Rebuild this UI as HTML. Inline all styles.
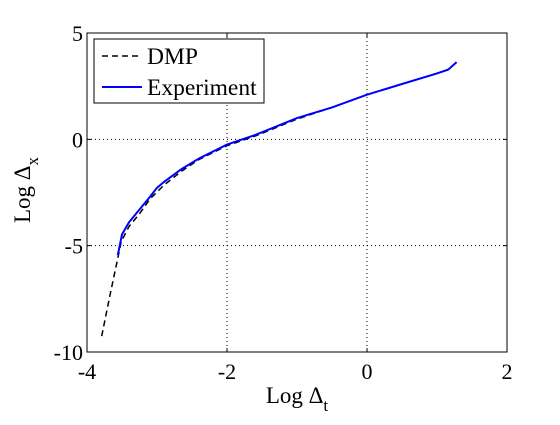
<!DOCTYPE html>
<html><head><meta charset="utf-8"><style>
body{margin:0;background:#fff}
svg text{font-family:"Liberation Serif",serif;fill:#000}
</style></head><body>
<svg width="560" height="420" xmlns="http://www.w3.org/2000/svg">
<rect width="560" height="420" fill="#fff"/>
<g id="grid"></g>
<g id="ticks"></g>
<g id="series"></g>
<rect x="87" y="33" width="420" height="319" fill="none" stroke="#000" stroke-width="1"/>
<text x="297" y="403" font-size="23" text-anchor="middle">Log Δ<tspan font-size="17" dy="8">t</tspan></text>
<text transform="translate(30,190) rotate(-90)" font-size="23" text-anchor="middle">Log Δ<tspan font-size="17" dy="8">x</tspan></text>
<g>
<rect x="94" y="39" width="170" height="64" fill="#fff" stroke="#000"/>
<line x1="102" y1="56" x2="142" y2="56" stroke="#000" stroke-width="1.5" stroke-dasharray="6,4"/>
<text x="147" y="64" font-size="23.5">DMP</text>
<line x1="102" y1="87" x2="142" y2="87" stroke="#0000ff" stroke-width="2"/>
<text x="147" y="95" font-size="23.5">Experiment</text>
</g>
</svg>
<script>
const xTicks=[-4,-2,0,2];
const yTicks=[5,0,-5,-10];
const dmpX=[-3.79,-3.67,-3.58,-3.51,-3.4,-3.25,-3.1,-2.9,-2.65,-2.4,-2.0,-1.6,-1.0,-0.5,0,0.5,1.0,1.16];
const dmpY=[-9.25,-7.3,-5.9,-4.8,-4.1,-3.5,-2.8,-2.15,-1.5,-0.95,-0.3,0.15,0.95,1.5,2.1,2.6,3.1,3.27];
const expX=[-3.56,-3.5,-3.4,-3.25,-3.1,-3.0,-2.9,-2.65,-2.5,-2.4,-2.0,-1.6,-1.0,-0.5,0,0.5,1.0,1.16,1.28];
const expY=[-5.45,-4.47,-3.9,-3.3,-2.7,-2.28,-2.0,-1.4,-1.1,-0.9,-0.25,0.2,1.0,1.5,2.1,2.6,3.1,3.28,3.63];
const L=87,R=507,T=33,B=352;
const sx=v=>L+(v+4)/6*(R-L);
const sy=v=>T+(5-v)/15*(B-T);
const NS='http://www.w3.org/2000/svg';
function mk(tag,attrs,parent){const e=document.createElementNS(NS,tag);for(const k in attrs)e.setAttribute(k,attrs[k]);parent.appendChild(e);return e;}
const grid=document.getElementById('grid'),ticks=document.getElementById('ticks'),series=document.getElementById('series');
xTicks.forEach(v=>{const x=sx(v);
 if(v>-4&&v<2){const g=mk('line',{x1:x,x2:x,y1:T,y2:B,stroke:'#000','stroke-width':1,'stroke-dasharray':'1,3'},grid);
 
 }
 const m=mk('path',{d:`M${x},${B}v-4M${x},${T}v4`,stroke:'#000','stroke-width':1},ticks);
 
 
 const t=mk('text',{x:x,y:379,'font-size':22,'text-anchor':'middle'},ticks);t.textContent=v;
 
 
});
yTicks.forEach(v=>{const y=sy(v);
 if(v<5&&v>-10){const g=mk('line',{x1:L,x2:R,y1:y,y2:y,stroke:'#000','stroke-width':1,'stroke-dasharray':'1,3'},grid);
 
 }
 const m=mk('path',{d:`M${L},${y}h4M${R},${y}h-4`,stroke:'#000','stroke-width':1},ticks);
 
 
 const t=mk('text',{x:83,y:y+8,'font-size':22,'text-anchor':'end'},ticks);t.textContent=v;
 
 
});
const pts=(xs,ys)=>xs.map((x,i)=>sx(x).toFixed(1)+','+sy(ys[i]).toFixed(1)).join(' ');
const d=mk('polyline',{points:pts(dmpX,dmpY),fill:'none',stroke:'#000','stroke-width':1.5,'stroke-dasharray':'6,4'},series);


const e=mk('polyline',{points:pts(expX,expY),fill:'none',stroke:'#0000ff','stroke-width':2},series);


</script>
</body></html>
